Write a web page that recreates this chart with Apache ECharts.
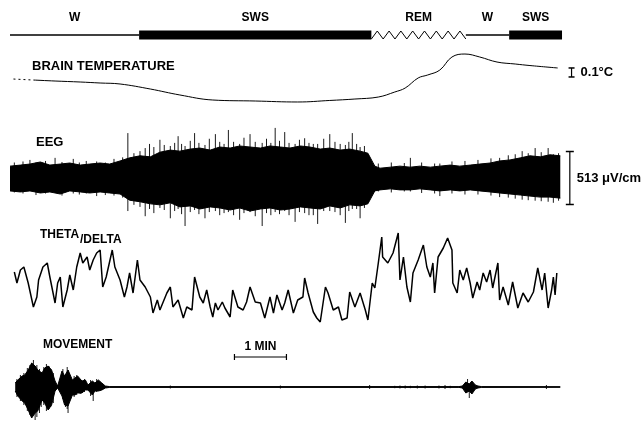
<!DOCTYPE html>
<html><head><meta charset="utf-8">
<script src="https://cdn.jsdelivr.net/npm/echarts@6/dist/echarts.min.js"></script>
<style>html,body{margin:0;padding:0;background:#fff}#c{width:644px;height:421px}</style>
</head><body><div id="c"></div>
<script>
// time axis in seconds (1 min = 52 px)
const X_MAX = 731.6;

// hypnogram
const stageNames = ['W', 'SWS', 'REM', 'W', 'SWS'];
const stageStart = [0, 149, 417, 526, 576];
const stageEnd = [149, 417, 526, 576, 637];

// brain temperature (°C, relative reading)
const tempTime = [4, 27, 52, 81, 104, 127, 162, 196, 234, 283, 332, 369, 398, 425, 444, 456, 471, 482, 496, 510, 525, 542, 562, 583, 600, 632];
const tempValue = [37.144, 37.133, 37.122, 37.111, 37.100, 37.089, 37.033, 36.967, 36.911, 36.900, 36.889, 36.906, 36.922, 36.944, 37.000, 37.044, 37.156, 37.189, 37.244, 37.389, 37.422, 37.389, 37.333, 37.311, 37.294, 37.267];
const tempScale = [648, 37.167, 37.267]; // 0.1 °C bar

// EEG envelope (µV)
const eegTime = [0, 12, 23, 35, 46, 58, 69, 81, 92, 104, 115, 127, 138, 150, 162, 173, 185, 196, 208, 219, 231, 242, 254, 265, 277, 289, 300, 312, 323, 335, 346, 358, 369, 381, 392, 404, 413, 421, 427, 439, 450, 462, 473, 485, 496, 508, 519, 531, 542, 554, 565, 577, 589, 600, 612, 623, 635];
const eegUpper = [115, 125, 135, 155, 125, 135, 145, 125, 135, 145, 135, 165, 195, 215, 205, 250, 270, 260, 280, 290, 270, 300, 290, 310, 300, 290, 310, 300, 290, 310, 300, 280, 290, 270, 280, 260, 240, 115, 95, 105, 115, 105, 115, 105, 115, 125, 115, 125, 135, 145, 165, 175, 195, 215, 205, 225, 215];
const eegLower = [-125, -135, -125, -145, -135, -155, -125, -135, -145, -135, -145, -155, -215, -230, -250, -260, -240, -280, -270, -300, -280, -290, -310, -290, -320, -300, -290, -310, -300, -280, -290, -300, -270, -290, -260, -270, -250, -125, -115, -105, -115, -115, -105, -115, -125, -115, -125, -115, -125, -135, -145, -155, -165, -175, -185, -185, -195];
// individual EEG deflections beyond the envelope: [time s, up µV, down µV]
const eegSpikeTime = [5, 15, 23, 30, 41, 52, 60, 73, 80, 88, 100, 110, 120, 130, 136, 143, 150, 156,
  161, 166, 173, 178, 185, 190, 194, 198, 202, 208, 213, 218, 225, 230, 237, 242, 247, 252, 258, 265, 270, 277, 283, 291, 296, 301, 306, 311, 317, 322, 329, 334, 340, 345, 350, 355, 362, 369, 375, 381, 387, 391, 395, 400, 404, 409,
  425, 440, 455, 462, 475, 490, 496, 510, 525, 540, 555, 565, 575, 583, 591, 598, 606, 613, 621, 627, 633];
const eegSpikeUp = [150, 160, 175, 150, 165, 195, 155, 185, 150, 165, 160, 150, 185, 200, 435, 240, 260, 290,
  330, 300, 370, 320, 310, 340, 405, 330, 310, 360, 435, 340, 320, 380, 425, 350, 330, 465, 350, 330, 390, 425, 350, 340, 380, 340, 485, 360, 445, 340, 330, 370, 385, 340, 330, 330, 380, 425, 350, 330, 320, 350, 435, 330, 300, 310,
  140, 150, 145, 195, 150, 140, 140, 160, 165, 175, 190, 195, 220, 230, 260, 240, 290, 250, 290, 230, 240];
const eegSpikeDown = [140, 150, 120, 165, 150, 140, 170, 150, 160, 150, 175, 165, 170, 190, 320, 260, 280, 370,
  300, 340, 290, 310, 390, 320, 300, 350, 465, 330, 310, 350, 390, 330, 320, 360, 340, 330, 360, 405, 340, 330, 370, 465, 340, 360, 330, 350, 320, 360, 425, 330, 340, 360, 360, 445, 320, 320, 330, 360, 435, 320, 300, 300, 390, 290,
  130, 140, 130, 130, 145, 150, 175, 150, 160, 160, 170, 185, 190, 200, 210, 215, 220, 225, 230, 240, 220];
const eegScale = [646, -256.5, 256.5]; // 513 µV bar

// theta/delta ratio
const thetaTime = [5, 8, 12, 16, 21, 27, 31, 33, 38, 43, 46, 52, 55, 58, 61, 66, 69, 73, 77, 81, 84, 89, 92, 96, 100, 104, 107, 111, 118, 121, 127, 132, 135, 138, 142, 147, 150, 156, 162, 165, 170, 173, 181, 185, 188, 194, 200, 204, 210, 213, 219, 223, 227, 231, 234,
  237, 240, 245, 248, 254, 257, 263, 269, 273, 277, 283, 289, 294, 300, 304, 308, 314, 317, 321, 327, 332, 338, 340, 344, 350, 354, 358, 364, 367, 373, 379, 383, 389, 392, 398, 404, 410, 413, 418, 421, 425, 429, 430, 436, 442, 448, 450, 454, 458, 462, 465, 471, 477, 481, 485,
  488, 490, 494, 500, 505, 510, 511, 516, 519, 523, 527, 531, 534, 539, 542, 546, 550, 554, 557, 563, 565, 569, 575, 580, 586, 592, 598, 604, 609, 614, 617, 621, 625, 627, 629, 631];
const thetaValue = [1.46, 1.24, 1.50, 1.56, 1.24, 0.76, 0.96, 1.30, 1.56, 1.64, 1.36, 0.84, 1.24, 1.36, 0.76, 1.10, 1.40, 1.10, 1.56, 1.84, 1.64, 1.76, 1.50, 1.70, 1.84, 1.90, 1.16, 1.36, 1.90, 1.56, 1.30, 0.96, 1.16, 1.44, 1.04, 1.70, 1.30, 1.16, 0.96, 0.64, 0.90, 0.70, 1.04, 1.16, 0.76, 0.90, 0.54, 0.76, 0.70, 1.36, 0.96, 0.84, 1.10, 0.76, 0.56,
  0.84, 0.70, 0.86, 0.74, 0.56, 1.10, 0.76, 0.70, 0.86, 1.16, 0.86, 0.84, 0.54, 0.96, 0.64, 1.00, 0.70, 0.84, 1.10, 0.64, 0.90, 0.96, 1.34, 1.04, 0.66, 0.54, 0.46, 1.16, 1.04, 0.70, 0.76, 0.50, 0.54, 1.06, 0.76, 1.04, 0.70, 0.50, 1.24, 1.14, 1.64, 2.16, 1.76, 1.64, 1.84, 2.24, 1.30, 1.76, 1.16, 0.86, 1.44, 1.70, 2.00, 1.56, 1.36,
  1.64, 1.04, 1.76, 1.94, 2.14, 1.90, 1.24, 1.04, 1.50, 1.30, 1.54, 1.24, 0.94, 1.26, 1.10, 1.44, 1.26, 1.50, 1.14, 1.64, 0.90, 1.16, 0.80, 1.26, 0.74, 1.04, 0.86, 1.06, 1.54, 1.10, 1.44, 0.74, 1.10, 1.36, 1.00, 1.44];

// movement (arbitrary units)
const movTime = [6, 9, 14, 17, 21, 25, 29, 32, 37, 40, 44, 48, 52, 55, 60, 63, 67, 72, 75, 78, 83, 87, 90, 95, 98, 102, 106, 110, 115, 518, 522, 526, 530, 533, 537, 540, 544, 635];
const movUp = [4, 7, 11, 12, 17, 24, 21, 17, 14, 19, 21, 17, 6, 1, 16, 11, 17, 7, 9, 11, 6, 7, 2, 6, 4, 7, 4, 1, 0.4, 0.4, 1, 5, 3, 6, 2, 1, 0.4, 0.4];
const movDown = [4, 9, 14, 16, 23, 31, 26, 24, 13, 16, 23, 18, 4, 1, 9, 18, 19, 8, 8, 6, 6, 3, 3, 8, 4, 4, 3, 1, 0.4, 0.4, 1, 6, 4, 7, 2, 1, 0.4, 0.4];
const movSpikeTime = [8, 12, 16, 20, 23, 27, 29, 31, 34, 36, 39, 42, 45, 47, 50, 61, 64, 66, 67, 70, 74, 77, 81, 86, 93, 96, 100, 104, 108,
  185, 312, 415, 444, 450, 456, 462, 470, 479, 495, 502, 508, 528, 530, 619];
const movSpikeUp = [8, 12, 14, 19, 22, 27, 20, 22, 18, 15, 20, 23, 21, 18, 14, 18, 12, 20, 17, 10, 11, 12, 8, 8, 7, 5, 8, 5, 2,
  1.5, 1.5, 2, 1.2, 1.5, 1.5, 1.2, 1.5, 1.5, 1.5, 2, 1.2, 8, 0, 2];
const movSpikeDown = [10, 14, 18, 24, 28, 22, 33, 30, 26, 20, 18, 24, 22, 20, 16, 12, 20, 22, 26, 12, 10, 8, 7, 5, 9, 14, 5, 4, 2,
  1.5, 1.5, 2, 1.2, 1.5, 1.5, 1.2, 1.5, 1.5, 1.5, 2, 1.2, 4, 11, 2];
const minuteBar = [259, 319, 30]; // 1 min

const F = '"Liberation Sans", Arial, Helvetica, sans-serif';
const chart = echarts.init(document.getElementById('c'), null, {renderer: 'canvas'});

const grids = [
  {left: 10, right: 0, top: 10, height: 50},
  {left: 10, right: 0, top: 50, height: 60},
  {left: 10, right: 0, top: 121, height: 114},
  {left: 10, right: 0, top: 230, height: 110},
  {left: 10, right: 0, top: 330, height: 91}
];
const yRanges = [[-1, 1], [36.8, 37.4667], [-552, 552], [0.1, 2.3], [-34, 57]];

function hypItem(params, api) {
  const i = api.value(2);
  const a = api.coord([api.value(0), 0]);
  const b = api.coord([api.value(1), 0]);
  const name = stageNames[i];
  const ch = [];
  if (name === 'W') {
    ch.push({type: 'line', shape: {x1: a[0], y1: a[1], x2: b[0], y2: b[1]}, style: {stroke: '#000', lineWidth: 1.3}});
  } else if (name === 'SWS') {
    ch.push({type: 'rect', shape: {x: a[0], y: a[1] - 4.5, width: b[0] - a[0], height: 9}, style: {fill: '#000'}});
  } else {
    const n = Math.round((b[0] - a[0]) / 6);
    const pts = [];
    for (let k = 0; k <= n; k++) pts.push([a[0] + (b[0] - a[0]) * k / n, a[1] + (k % 2 ? -4 : 4)]);
    ch.push({type: 'polyline', shape: {points: pts}, style: {stroke: '#000', lineWidth: 1, fill: null}});
  }
  ch.push({type: 'text', style: {text: name, x: (a[0] + b[0]) / 2, y: a[1] - 17, font: 'bold 12px ' + F, fill: '#000', align: 'center', verticalAlign: 'middle'}});
  return {type: 'group', children: ch};
}

function vScale(label, cap) {
  return function (params, api) {
    const a = api.coord([api.value(0), api.value(1)]);
    const b = api.coord([api.value(0), api.value(2)]);
    return {type: 'group', children: [
      {type: 'line', shape: {x1: a[0], y1: a[1], x2: b[0], y2: b[1]}, style: {stroke: '#000', lineWidth: 1.2}},
      {type: 'line', shape: {x1: a[0] - cap, y1: a[1], x2: a[0] + cap, y2: a[1]}, style: {stroke: '#000', lineWidth: 1.5}},
      {type: 'line', shape: {x1: b[0] - cap, y1: b[1], x2: b[0] + cap, y2: b[1]}, style: {stroke: '#000', lineWidth: 1.5}},
      {type: 'text', style: {text: label, x: a[0] + (cap > 3 ? 7 : 9), y: (a[1] + b[1]) / 2, font: 'bold 13px ' + F, fill: '#000', align: 'left', verticalAlign: 'middle'}}
    ]};
  };
}

function spikeItem(params, api) {
  const t = api.value(0);
  const a = api.coord([t, api.value(1)]);
  const b = api.coord([t, -api.value(2)]);
  return {type: 'line', shape: {x1: a[0], y1: a[1], x2: b[0], y2: b[1]}, style: {stroke: '#000', lineWidth: 0.9}};
}

function minuteItem(params, api) {
  const a = api.coord([api.value(0), api.value(2)]);
  const b = api.coord([api.value(1), api.value(2)]);
  return {type: 'group', children: [
    {type: 'line', shape: {x1: a[0], y1: a[1], x2: b[0], y2: b[1]}, style: {stroke: '#000', lineWidth: 1.2}},
    {type: 'line', shape: {x1: a[0], y1: a[1] - 3, x2: a[0], y2: a[1] + 3}, style: {stroke: '#000', lineWidth: 1.2}},
    {type: 'line', shape: {x1: b[0], y1: b[1] - 3, x2: b[0], y2: b[1] + 3}, style: {stroke: '#000', lineWidth: 1.2}},
    {type: 'text', style: {text: '1 MIN', x: (a[0] + b[0]) / 2, y: a[1] - 10, font: 'bold 12px ' + F, fill: '#000', align: 'center', verticalAlign: 'middle'}}
  ]};
}

const blackLine = {color: '#000', width: 1};
const option = {
  backgroundColor: '#fff',
  animation: false,
  grid: grids,
  xAxis: grids.map((g, i) => ({type: 'value', gridIndex: i, min: 0, max: X_MAX, show: false})),
  yAxis: yRanges.map((r, i) => ({type: 'value', gridIndex: i, min: r[0], max: r[1], show: false})),
  graphic: [
    {type: 'text', x: 32, y: 66, style: {text: 'BRAIN TEMPERATURE', font: 'bold 13px ' + F, fill: '#000', verticalAlign: 'middle'}},
    {type: 'text', x: 36, y: 142, style: {text: 'EEG', font: 'bold 13px ' + F, fill: '#000', verticalAlign: 'middle'}},
    {type: 'text', x: 40, y: 235, style: {text: 'THETA', font: 'bold 12px ' + F, fill: '#000', verticalAlign: 'middle'}},
    {type: 'text', x: 80, y: 240, style: {text: '/DELTA', font: 'bold 12px ' + F, fill: '#000', verticalAlign: 'middle'}},
    {type: 'text', x: 43, y: 345, style: {text: 'MOVEMENT', font: 'bold 12px ' + F, fill: '#000', verticalAlign: 'middle'}}
  ],
  series: [
    {type: 'custom', xAxisIndex: 0, yAxisIndex: 0, renderItem: hypItem, clip: false,
      data: stageStart.map((s, i) => [s, stageEnd[i], i])},
    {type: 'line', xAxisIndex: 1, yAxisIndex: 1, symbol: 'none', lineStyle: {color: '#000', width: 1, type: [2, 3]},
      data: tempTime.slice(0, 2).map((t, i) => [t, tempValue[i]])},
    {type: 'line', xAxisIndex: 1, yAxisIndex: 1, symbol: 'none', smooth: 0.4, lineStyle: {color: '#000', width: 1},
      data: tempTime.slice(1).map((t, i) => [t, tempValue[i + 1]])},
    {type: 'custom', xAxisIndex: 1, yAxisIndex: 1, renderItem: vScale('0.1°C', 3), clip: false, data: [tempScale]},
    {type: 'line', xAxisIndex: 2, yAxisIndex: 2, symbol: 'none', lineStyle: blackLine, areaStyle: {color: '#000', opacity: 1},
      data: eegTime.map((t, i) => [t, eegUpper[i]])},
    {type: 'line', xAxisIndex: 2, yAxisIndex: 2, symbol: 'none', lineStyle: blackLine, areaStyle: {color: '#000', opacity: 1},
      data: eegTime.map((t, i) => [t, eegLower[i]])},
    {type: 'custom', xAxisIndex: 2, yAxisIndex: 2, renderItem: spikeItem, clip: false,
      data: eegSpikeTime.map((t, i) => [t, eegSpikeUp[i], eegSpikeDown[i]])},
    {type: 'custom', xAxisIndex: 2, yAxisIndex: 2, renderItem: vScale('513 \u03bcV/cm', 4), clip: false, data: [eegScale]},
    {type: 'line', xAxisIndex: 3, yAxisIndex: 3, symbol: 'none', lineStyle: {color: '#000', width: 1.5},
      data: thetaTime.map((t, i) => [t, thetaValue[i]])},
    {type: 'line', xAxisIndex: 4, yAxisIndex: 4, symbol: 'none', lineStyle: blackLine, areaStyle: {color: '#000', opacity: 1},
      data: movTime.map((t, i) => [t, movUp[i]])},
    {type: 'line', xAxisIndex: 4, yAxisIndex: 4, symbol: 'none', lineStyle: blackLine, areaStyle: {color: '#000', opacity: 1},
      data: movTime.map((t, i) => [t, -movDown[i]])},
    {type: 'custom', xAxisIndex: 4, yAxisIndex: 4, renderItem: spikeItem, clip: false,
      data: movSpikeTime.map((t, i) => [t, movSpikeUp[i], movSpikeDown[i]])},
    {type: 'custom', xAxisIndex: 4, yAxisIndex: 4, renderItem: minuteItem, clip: false, data: [minuteBar]}
  ]
};
chart.setOption(option);
</script></body></html>
